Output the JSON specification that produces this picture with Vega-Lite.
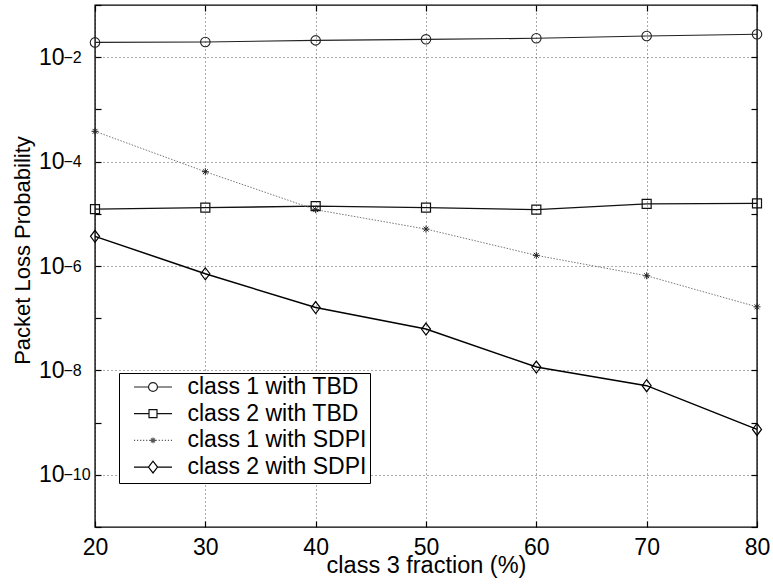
{
  "$schema": "https://vega.github.io/schema/vega-lite/v6.json",
  "width": 662,
  "height": 522,
  "autosize": {"type": "none"},
  "padding": {"left": 95, "top": 5, "right": 16, "bottom": 60},
  "background": "white",
  "config": {
    "view": {"stroke": "black", "strokeWidth": 1.4},
    "font": "Liberation Sans"
  },
  "data": {
    "values": [
      {"x": 20, "series": "class 1 with TBD", "p": 0.0192},
      {"x": 30, "series": "class 1 with TBD", "p": 0.0196},
      {"x": 40, "series": "class 1 with TBD", "p": 0.021},
      {"x": 50, "series": "class 1 with TBD", "p": 0.022},
      {"x": 60, "series": "class 1 with TBD", "p": 0.023},
      {"x": 70, "series": "class 1 with TBD", "p": 0.0255},
      {"x": 80, "series": "class 1 with TBD", "p": 0.0275},
      {"x": 20, "series": "class 2 with TBD", "p": 1.23e-5},
      {"x": 30, "series": "class 2 with TBD", "p": 1.31e-5},
      {"x": 40, "series": "class 2 with TBD", "p": 1.4e-5},
      {"x": 50, "series": "class 2 with TBD", "p": 1.31e-5},
      {"x": 60, "series": "class 2 with TBD", "p": 1.2e-5},
      {"x": 70, "series": "class 2 with TBD", "p": 1.55e-5},
      {"x": 80, "series": "class 2 with TBD", "p": 1.58e-5},
      {"x": 20, "series": "class 1 with SDPI", "p": 3.8e-4},
      {"x": 30, "series": "class 1 with SDPI", "p": 6.4e-5},
      {"x": 40, "series": "class 1 with SDPI", "p": 1.2e-5},
      {"x": 50, "series": "class 1 with SDPI", "p": 5.1e-6},
      {"x": 60, "series": "class 1 with SDPI", "p": 1.6e-6},
      {"x": 70, "series": "class 1 with SDPI", "p": 6.5e-7},
      {"x": 80, "series": "class 1 with SDPI", "p": 1.65e-7},
      {"x": 20, "series": "class 2 with SDPI", "p": 3.7e-6},
      {"x": 30, "series": "class 2 with SDPI", "p": 7.1e-7},
      {"x": 40, "series": "class 2 with SDPI", "p": 1.6e-7},
      {"x": 50, "series": "class 2 with SDPI", "p": 6.2e-8},
      {"x": 60, "series": "class 2 with SDPI", "p": 1.16e-8},
      {"x": 70, "series": "class 2 with SDPI", "p": 5.1e-9},
      {"x": 80, "series": "class 2 with SDPI", "p": 7.4e-10}
    ]
  },
  "resolve": {"axis": {"x": "independent", "y": "independent"}},
  "layer": [
    {
      "transform": [{"filter": "datum.series == 'class 1 with TBD'"}],
      "mark": {"type": "line", "stroke": "#222", "strokeWidth": 1.1},
      "encoding": {
        "x": {
          "field": "x", "type": "quantitative",
          "scale": {"domain": [20, 80], "nice": false, "zero": false},
          "axis": {
            "orient": "bottom",
            "values": [20, 30, 40, 50, 60, 70, 80],
            "title": "class 3 fraction (%)",
            "grid": true, "gridDash": [1, 3], "gridColor": "#555", "gridWidth": 1,
            "domain": false,
            "tickSize": -6, "tickColor": "black", "tickWidth": 1.2,
            "labelFont": "Liberation Sans", "labelFontSize": 23, "labelColor": "black",
            "labelPadding": 15, "labelFlush": false, "labelOverlap": false,
            "titleFont": "Liberation Sans", "titleFontSize": 23.5, "titleFontWeight": "normal",
            "titleColor": "black", "titleBaseline": "alphabetic", "titleY": 45
          }
        },
        "y": {
          "field": "p", "type": "quantitative",
          "scale": {"type": "log", "domain": [1e-11, 0.1], "nice": false},
          "axis": {
            "orient": "left",
            "values": [1e-11, 1e-10, 1e-9, 1e-8, 1e-7, 1e-6, 1e-5, 1e-4, 1e-3, 1e-2, 1e-1],
            "labelExpr": "abs(round(log(datum.value)/LN10)) % 2 == 0 && datum.value > 5e-11 && datum.value < 0.05 ? '10' : ''",
            "title": "Packet Loss Probability",
            "grid": true, "gridDash": [1, 3], "gridColor": "#555", "gridWidth": 1,
            "gridOpacity": {"condition": {"test": "abs(round(log(datum.value)/LN10)) % 2 == 0 && datum.value > 5e-11 && datum.value < 0.05", "value": 1}, "value": 0},
            "domain": false,
            "tickSize": -6, "tickColor": "black", "tickWidth": 1.2,
            "labelFont": "Liberation Sans", "labelFontSize": 23, "labelColor": "black",
            "labelPadding": 37, "labelOverlap": false, "labelBaseline": "middle",
            "titleFont": "Liberation Sans", "titleFontSize": 22, "titleFontWeight": "normal",
            "titleColor": "black", "titleBaseline": "alphabetic", "titleAngle": -90,
            "titleX": -66, "titleY": 245, "titleAlign": "center"
          }
        }
      }
    },
    {
      "transform": [{"filter": "datum.series == 'class 2 with TBD'"}],
      "mark": {"type": "line", "stroke": "#111", "strokeWidth": 1.3},
      "encoding": {
        "x": {"field": "x", "type": "quantitative", "axis": null},
        "y": {
          "field": "p", "type": "quantitative",
          "axis": {
            "orient": "left",
            "values": [1e-11, 1e-10, 1e-9, 1e-8, 1e-7, 1e-6, 1e-5, 1e-4, 1e-3, 1e-2, 1e-1],
            "labelExpr": "abs(round(log(datum.value)/LN10)) % 2 == 0 && datum.value > 5e-11 && datum.value < 0.05 ? '\u2212' + abs(round(log(datum.value)/LN10)) : ''",
            "title": null, "grid": false, "domain": false, "ticks": false,
            "labelFont": "Liberation Sans", "labelFontSize": 16, "labelColor": "black",
            "labelPadding": 32, "labelAlign": "left", "labelDy": -9, "labelOverlap": false, "labelBaseline": "middle"
          }
        }
      }
    },
    {
      "transform": [{"filter": "datum.series == 'class 1 with SDPI'"}],
      "mark": {"type": "line", "stroke": "#777", "strokeWidth": 1, "strokeDash": [1.5, 1.5]},
      "encoding": {
        "x": {
          "field": "x", "type": "quantitative",
          "axis": {
            "orient": "top", "values": [20, 30, 40, 50, 60, 70, 80],
            "labels": false, "title": null, "grid": false, "domain": false,
            "tickSize": -6, "tickColor": "black", "tickWidth": 1.2
          }
        },
        "y": {
          "field": "p", "type": "quantitative",
          "axis": {
            "orient": "right",
            "values": [1e-11, 1e-10, 1e-9, 1e-8, 1e-7, 1e-6, 1e-5, 1e-4, 1e-3, 1e-2, 1e-1],
            "labels": false, "title": null, "grid": false, "domain": false,
            "tickSize": -6, "tickColor": "black", "tickWidth": 1.2
          }
        }
      }
    },
    {
      "transform": [{"filter": "datum.series == 'class 2 with SDPI'"}],
      "mark": {"type": "line", "stroke": "#000", "strokeWidth": 1.5},
      "encoding": {
        "x": {"field": "x", "type": "quantitative", "axis": null},
        "y": {"field": "p", "type": "quantitative", "axis": null}
      }
    },
    {
      "transform": [{"filter": "datum.series == 'class 1 with TBD'"}],
      "mark": {"type": "point", "shape": "circle", "filled": false, "size": 90, "stroke": "#222", "strokeWidth": 1.1, "opacity": 1},
      "encoding": {
        "x": {"field": "x", "type": "quantitative", "axis": null},
        "y": {"field": "p", "type": "quantitative", "axis": null}
      }
    },
    {
      "transform": [{"filter": "datum.series == 'class 2 with TBD'"}],
      "mark": {"type": "point", "shape": "square", "filled": false, "size": 81, "stroke": "#111", "strokeWidth": 1.2, "opacity": 1},
      "encoding": {
        "x": {"field": "x", "type": "quantitative", "axis": null},
        "y": {"field": "p", "type": "quantitative", "axis": null}
      }
    },
    {
      "transform": [{"filter": "datum.series == 'class 1 with SDPI'"}],
      "mark": {"type": "point", "shape": "M-1,0H1M0,-1V1M-0.7,-0.7L0.7,0.7M-0.7,0.7L0.7,-0.7", "filled": false, "size": 49, "stroke": "#222", "strokeWidth": 1, "opacity": 1},
      "encoding": {
        "x": {"field": "x", "type": "quantitative", "axis": null},
        "y": {"field": "p", "type": "quantitative", "axis": null}
      }
    },
    {
      "transform": [{"filter": "datum.series == 'class 2 with SDPI'"}],
      "mark": {"type": "point", "shape": "M0,-1.2L0.9,0L0,1.2L-0.9,0Z", "filled": false, "size": 100, "stroke": "#000", "strokeWidth": 1.2, "opacity": 1},
      "encoding": {
        "x": {"field": "x", "type": "quantitative", "axis": null},
        "y": {"field": "p", "type": "quantitative", "axis": null}
      }
    },
    {
      "transform": [{"filter": "false"}],
      "mark": {"type": "point", "filled": false, "opacity": 1, "strokeWidth": 1.2},
      "encoding": {
        "shape": {
          "field": "series", "type": "nominal",
          "scale": {
            "domain": ["class 1 with TBD", "class 2 with TBD", "class 1 with SDPI", "class 2 with SDPI"],
            "range": [
              "M-2,0H-0.47M0.47,0H2M0.47,0A0.47,0.47,0,1,1,-0.47,0A0.47,0.47,0,1,1,0.47,0",
              "M-2,0H-0.42M0.42,0H2M-0.42,-0.42H0.42V0.42H-0.42Z",
              "M-2,0H-1.88M-1.68,0H-1.56M-1.36,0H-1.24M-1.04,0H-0.92M-0.72,0H-0.6M-0.4,0H-0.28M0.28,0H0.4M0.6,0H0.72M0.92,0H1.04M1.24,0H1.36M1.56,0H1.68M1.88,0H2M-0.3,0H0.3M0,-0.3V0.3M-0.21,-0.21L0.21,0.21M-0.21,0.21L0.21,-0.21",
              "M-2,0H-0.48M0.48,0H2M-0.48,0L0,-0.62L0.48,0L0,0.62Z"
            ]
          },
          "legend": {
            "orient": "none", "legendX": 24, "legendY": 368, "title": null,
            "padding": 3, "symbolOffset": 19.5, "labelOffset": 23, "rowPadding": 3.7, "clipHeight": 22,
            "strokeColor": "black", "fillColor": "white",
            "labelFont": "Liberation Sans", "labelFontSize": 23, "labelColor": "black",
            "labelExpr": "datum.label + '\u00a0\u00a0'", "labelLimit": 400,
            "symbolSize": 361, "symbolStrokeWidth": 1.2, "symbolOpacity": 1
          }
        },
        "color": {
          "field": "series", "type": "nominal",
          "scale": {
            "domain": ["class 1 with TBD", "class 2 with TBD", "class 1 with SDPI", "class 2 with SDPI"],
            "range": ["#222", "#111", "#555", "#000"]
          },
          "legend": {
            "orient": "none", "legendX": 24, "legendY": 368, "title": null,
            "padding": 3, "symbolOffset": 19.5, "labelOffset": 23, "rowPadding": 3.7, "clipHeight": 22,
            "strokeColor": "black", "fillColor": "white",
            "labelFont": "Liberation Sans", "labelFontSize": 23, "labelColor": "black",
            "labelExpr": "datum.label + '\u00a0\u00a0'", "labelLimit": 400,
            "symbolSize": 361, "symbolStrokeWidth": 1.2, "symbolOpacity": 1
          }
        }
      }
    }
  ]
}
